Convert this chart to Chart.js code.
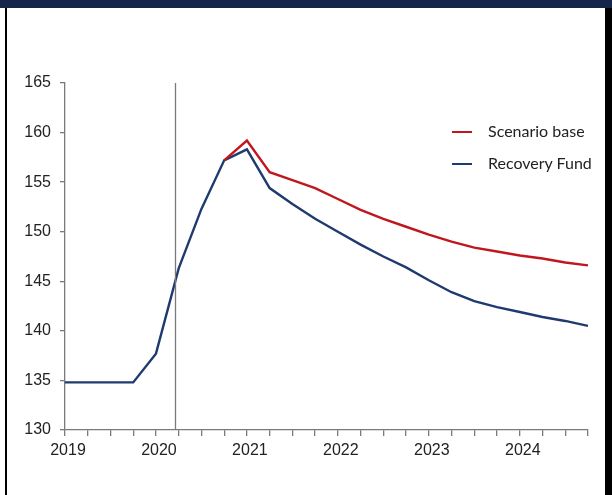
<!DOCTYPE html>
<html>
<head>
<meta charset="utf-8">
<script src="https://cdn.jsdelivr.net/npm/chart.js@4"></script>
<style>
  html, body { margin: 0; padding: 0; background: #fff; }
  #frame { position: relative; width: 612px; height: 495px; overflow: hidden; }
  #band { position: absolute; left: 0; top: 0; width: 612px; height: 8px; background: #16244a; }
  #leftEdge { position: absolute; left: 5px; top: 8px; width: 2px; height: 487px; background: #000; }
  #rightEdge { position: absolute; left: 605px; top: 8px; width: 7px; height: 487px; background: #000; }
  #chartBox { position: absolute; left: 0; top: 0; width: 612px; height: 495px; }
  .legend { position: absolute; left: 452px; font-family: Lato, "Open Sans", sans-serif; font-size: 16px; color: #222; }
  .legend span.sw { position: absolute; left: 0; width: 20px; height: 2px; }
  .legend span.tx { position: absolute; left: 36px; white-space: nowrap; line-height: 20px; }
</style>
</head>
<body>
<div id="frame">
  <div id="chartBox"><canvas id="debtChart" width="612" height="495"></canvas></div>
  <div id="band"></div>
  <div id="leftEdge"></div>
  <div id="rightEdge"></div>
  <div class="legend" style="top:121px;">
    <span class="sw" style="top:10px;background:#c0171f;"></span><span class="tx">Scenario base</span>
  </div>
  <div class="legend" style="top:153px;">
    <span class="sw" style="top:10px;background:#1f3a6e;"></span><span class="tx">Recovery Fund</span>
  </div>
</div>
<script>
// quarters 2019Q1 .. 2024Q4
const quarters = [
  '2019Q1','2019Q2','2019Q3','2019Q4',
  '2020Q1','2020Q2','2020Q3','2020Q4',
  '2021Q1','2021Q2','2021Q3','2021Q4',
  '2022Q1','2022Q2','2022Q3','2022Q4',
  '2023Q1','2023Q2','2023Q3','2023Q4',
  '2024Q1','2024Q2','2024Q3','2024Q4'
];
const yearLabels = ['2019', '2020', '2021', '2022', '2023', '2024'];

const scenarioBase = [
  null, null, null, null,
  null, null, null, 157.2,
  159.2, 156.0, 155.2, 154.4,
  153.3, 152.2, 151.3, 150.5,
  149.7, 149.0, 148.4, 148.0,
  147.6, 147.3, 146.9, 146.6
];
const recoveryFund = [
  134.8, 134.8, 134.8, 134.8,
  137.7, 146.3, 152.3, 157.2,
  158.3, 154.4, 152.8, 151.3,
  150.0, 148.7, 147.5, 146.4,
  145.1, 143.9, 143.0, 142.4,
  141.9, 141.4, 141.0, 140.5
];
const yTicks = [130, 135, 140, 145, 150, 155, 160, 165];
const markerPosition = 4.85; // vertical line, just before 2020Q2

const toPoints = arr => arr.map((v, i) => ({ x: i, y: v }));

const markerLine = {
  id: 'markerLine',
  afterDatasetsDraw(chart) {
    const { ctx, chartArea, scales } = chart;
    const x = Math.round(scales.x.getPixelForValue(markerPosition)) + 0.5;
    ctx.save();
    ctx.strokeStyle = '#7a7a7a';
    ctx.lineWidth = 1.3;
    ctx.beginPath();
    ctx.moveTo(x, chartArea.top);
    ctx.lineTo(x, chartArea.bottom);
    ctx.stroke();
    ctx.restore();
  }
};

const axisFont = { family: '"Liberation Sans", Arial, sans-serif', size: 16 };

new Chart(document.getElementById('debtChart').getContext('2d'), {
  type: 'line',
  data: {
    datasets: [
      {
        label: 'Scenario base',
        data: toPoints(scenarioBase),
        borderColor: '#c0171f',
        borderWidth: 2.4,
        pointRadius: 0,
        tension: 0,
        spanGaps: false
      },
      {
        label: 'Recovery Fund',
        data: toPoints(recoveryFund),
        borderColor: '#1f3a6e',
        borderWidth: 2.4,
        pointRadius: 0,
        tension: 0
      }
    ]
  },
  options: {
    responsive: false,
    animation: false,
    layout: { padding: { left: 0, right: 24, top: 83, bottom: 22 } },
    plugins: {
      legend: { display: false },
      tooltip: { enabled: false },
      title: { display: false }
    },
    scales: {
      x: {
        type: 'linear',
        min: 0,
        max: quarters.length - 1,
        afterBuildTicks: scale => {
          scale.ticks = quarters.map((q, i) => ({ value: i }));
        },
        afterFit: scale => { scale.height = 43; },
        grid: { drawOnChartArea: false, color: '#7a7a7a', tickLength: 6, lineWidth: 1.3 },
        border: { color: '#7a7a7a', width: 1.3 },
        ticks: {
          autoSkip: false,
          maxRotation: 0,
          padding: 5,
          labelOffset: 3,
          color: '#222',
          font: axisFont,
          callback: value => (value % 4 === 0 ? yearLabels[value / 4] : '')
        }
      },
      y: {
        min: yTicks[0],
        max: yTicks[yTicks.length - 1],
        afterBuildTicks: scale => {
          scale.ticks = yTicks.map(v => ({ value: v }));
        },
        afterFit: scale => { scale.width = 65; },
        grid: { drawOnChartArea: false, color: '#7a7a7a', tickLength: 5, lineWidth: 1.3 },
        border: { color: '#7a7a7a', width: 1.3 },
        ticks: {
          padding: 9,
          color: '#222',
          font: axisFont
        }
      }
    }
  },
  plugins: [markerLine]
});
</script>
</body>
</html>
